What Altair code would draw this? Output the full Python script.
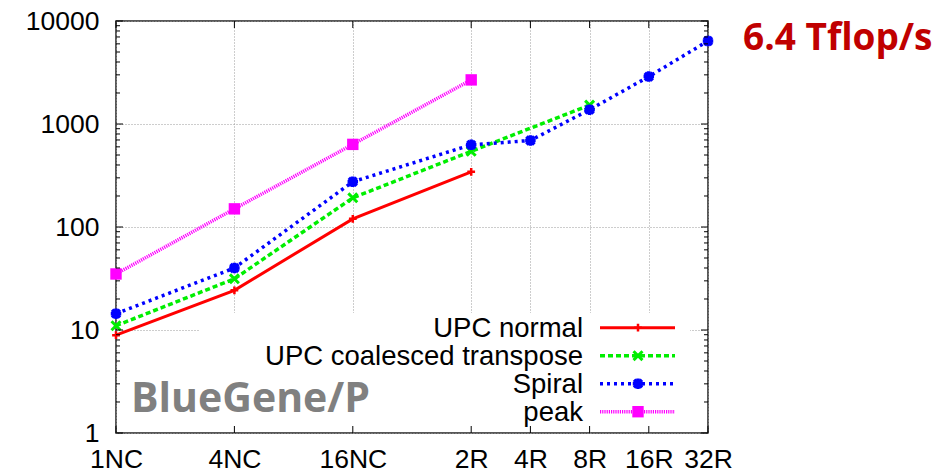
import altair as alt
import pandas as pd

# ---- data ----
categories = ["1NC", "4NC", "16NC", "2R", "4R", "8R", "16R", "32R"]
nc_count = [1, 4, 16, 64, 128, 256, 512, 1024]

upc_normal = [8.9, 24.3, 120, 343, None, None, None, None]
upc_coalesced = [11, 31.4, 192, 543, None, 1525, None, None]
spiral = [14.4, 40, 275, 628, 692, 1377, 2885, 6400]
peak = [35, 150, 634, 2680, None, None, None, None]

series_names = ["UPC normal", "UPC coalesced transpose", "Spiral", "peak"]
series_values = [upc_normal, upc_coalesced, spiral, peak]

y_major = [1, 10, 100, 1000, 10000]
y_minor = [d * m for d in [1, 10, 100, 1000] for m in range(2, 10)]

# ---- styles ----
colors = ["#ff0000", "#00ee00", "#0000ff", "#ff00ff"]
dashes = [None, [5, 3], [3, 4], [1.2, 1]]
widths = [3, 3.5, 3.5, 3.5]
shapes = [
    "M-1,0H1M0,-1V1",
    "M-1,-1L1,1M-1,1L1,-1",
    "M-1,0H1M0,-1V1M-0.75,-0.75L0.75,0.75M-0.75,0.75L0.75,-0.75",
    "square",
]
sizes = [60, 80, 110, 130]
stroke_w = [2.5, 3, 3.5, 0]
filled = [False, False, False, True]

W, H = 592, 412
TOP = 13

rows = []
for name, vals in zip(series_names, series_values):
    for n, v in zip(nc_count, vals):
        if v is not None:
            rows.append({"series": name, "nc": n, "val": v})
df = pd.DataFrame(rows)

label_expr = ""
for n, c in zip(nc_count, categories):
    label_expr += f"datum.value == {n} ? '{c}' : "
label_expr += "''"

axis_common = dict(
    grid=True, gridDash=[1, 2], gridColor="#9a9a9a", gridWidth=1,
    ticks=False, tickSize=0, domain=False, title=None,
    labelFont="Liberation Sans", labelColor="black",
)
X = alt.X("nc:Q",
          scale=alt.Scale(type="log", base=2, domain=[1, 1024], nice=False),
          axis=alt.Axis(values=nc_count, labelExpr=label_expr, labelPadding=13,
                        labelFontSize=26.5,
                        labelOverlap=False, labelBound=False, labelFlush=False,
                        **axis_common))
Y = alt.Y("val:Q",
          scale=alt.Scale(type="log", domain=[1, 10000], nice=False),
          axis=alt.Axis(values=y_major, format="d", labelPadding=17,
                        labelFontSize=26.5,
                        labelOverlap=False, **axis_common))

# offset helper: positions below were read in page pixels relative to an 18px plot top
def py(page_y):
    return page_y - 8 - TOP

layers = []

# white legend backdrop (hides grid under the key)
blank = pd.DataFrame({"a": [0]})
layers.append(alt.Chart(blank).mark_rect(color="white").encode(
    x=alt.value(84), x2=alt.value(574), y=alt.value(py(313)), y2=alt.value(py(432))))

# data lines + markers
for i, name in enumerate(series_names):
    lk = dict(color=colors[i], strokeWidth=widths[i])
    if dashes[i]:
        lk["strokeDash"] = dashes[i]
    layers.append(alt.Chart(df).transform_filter(alt.datum.series == name)
                  .mark_line(**lk).encode(x=X, y=Y))
for i, name in enumerate(series_names):
    pk = dict(shape=shapes[i], size=sizes[i], filled=filled[i], color=colors[i],
              opacity=1, strokeWidth=stroke_w[i])
    layers.append(alt.Chart(df).transform_filter(alt.datum.series == name)
                  .mark_point(**pk).encode(x=X, y=Y))

# key (gnuplot style: label left of sample)
row_page_y = [327.7, 355.7, 383.7, 411.7]
for i, name in enumerate(series_names):
    ry = py(row_page_y[i])
    layers.append(alt.Chart(blank).mark_text(
        text=name, align="right", baseline="alphabetic", font="Liberation Sans",
        fontSize=27.5, color="black").encode(x=alt.value(467), y=alt.value(ry + 9)))
    rk = dict(color=colors[i], strokeWidth=widths[i])
    if dashes[i]:
        rk["strokeDash"] = dashes[i]
    layers.append(alt.Chart(blank).mark_rule(**rk).encode(
        x=alt.value(484), x2=alt.value(559), y=alt.value(ry)))
    pk = dict(shape=shapes[i], size=sizes[i], filled=filled[i], color=colors[i],
              opacity=1, strokeWidth=stroke_w[i])
    layers.append(alt.Chart(blank).mark_point(**pk).encode(
        x=alt.value(522), y=alt.value(ry)))

# inward ticks (major + minor, mirrored)
xt = pd.DataFrame({"nc": nc_count})
ytm = pd.DataFrame({"val": y_major})
ytn = pd.DataFrame({"val": y_minor})
tick = dict(color="black", strokeWidth=1)
layers.append(alt.Chart(xt).mark_rule(**tick).encode(x=X, y=alt.value(H), y2=alt.value(H - 7)))
layers.append(alt.Chart(xt).mark_rule(**tick).encode(x=X, y=alt.value(0), y2=alt.value(7)))
layers.append(alt.Chart(ytm).mark_rule(**tick).encode(y=Y, x=alt.value(0), x2=alt.value(7)))
layers.append(alt.Chart(ytm).mark_rule(**tick).encode(y=Y, x=alt.value(W), x2=alt.value(W - 7)))
layers.append(alt.Chart(ytn).mark_rule(**tick).encode(y=Y, x=alt.value(0), x2=alt.value(4)))
layers.append(alt.Chart(ytn).mark_rule(**tick).encode(y=Y, x=alt.value(W), x2=alt.value(W - 4)))

# annotations
layers.append(alt.Chart(blank).mark_text(
    text="BlueGene/P", align="left", baseline="alphabetic", font="Open Sans",
    fontWeight="bold", fontSize=41, color="#808080").encode(
    x=alt.value(15), y=alt.value(py(412))))
layers.append(alt.Chart(blank).mark_text(
    text="6.4 Tflop/s", align="left", baseline="alphabetic", font="Open Sans",
    fontWeight="bold", fontSize=37, color="#c00000").encode(
    x=alt.value(627), y=alt.value(py(50))))

chart = alt.layer(*layers).properties(
    width=W, height=H,
    autosize=alt.AutoSizeParams(type="none"),
    padding={"left": 108, "top": TOP, "right": 228, "bottom": 44},
).configure_view(stroke="#222222", strokeWidth=1.5)

chart.save("out.html", embed_options={"renderer": "svg", "actions": False})
